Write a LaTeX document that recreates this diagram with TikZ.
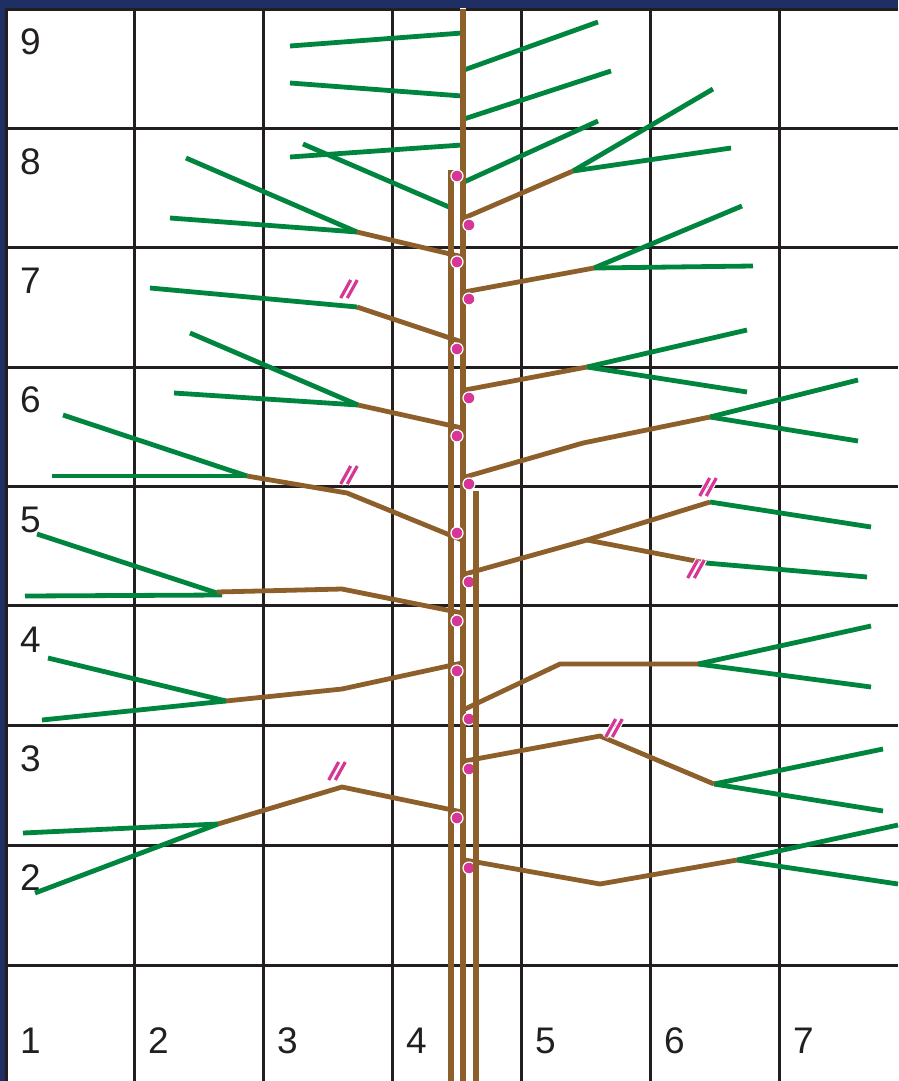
\documentclass[tikz,border=0pt]{standalone}
\usepackage{fontspec}
\setmainfont{Liberation Sans}
\definecolor{navy}{HTML}{1F2E63}
\definecolor{gridc}{HTML}{231F20}
\definecolor{brownc}{HTML}{8D5F2A}
\definecolor{greenc}{HTML}{00853F}
\definecolor{dotc}{HTML}{D63796}
\tikzset{
  gridline/.style={draw=gridc, line width=3pt},
  needle/.style={draw=greenc, line width=4.8pt},
  limb/.style={draw=brownc, line width=4.8pt, line join=round},
  trunkhalo/.style={draw=white, line width=6.8pt},
  trunk/.style={draw=brownc, line width=5.8pt},
  bud/.style={fill=dotc, draw=white, line width=1.2pt},
  lbl/.style={anchor=base west, inner sep=0pt, text=gridc, font=\fontsize{37}{40}\selectfont},
  hashmk/.pic={
    \foreach \d in {-3.3,3.3}{\draw[white, line width=5.5pt] (\d-5.2,9.2) -- (\d+5.2,-9.2);}
    \foreach \d in {-3.3,3.3}{\draw[dotc, line width=3.2pt] (\d-5,9) -- (\d+5,-9);}
  }
}
\begin{document}
\begin{tikzpicture}[x=1pt,y=-1pt]
\useasboundingbox (0,0) rectangle (898,1081);
% background
\fill[navy] (0,0) rectangle (898,1081);
\fill[white] (6,9.5) rectangle (898,1081);
% grid
\foreach \gx in {6,134,263,392,521,650,779}{\draw[gridline] (\gx,8.5) -- (\gx,1081);}
\foreach \gy in {10,128,247,367,486,605,725,845,965}{\draw[gridline] (4.5,\gy) -- (898,\gy);}
% labels
\foreach \t/\by in {9/55,8/174,7/293,6/412,5/532,4/652,3/771,2/890}{\node[lbl] (row\t) at (20,\by) {\t};}
\foreach \t/\bx in {1/20,2/148,3/277,4/406,5/535,6/664,7/793}{\node[lbl] (col\t) at (\bx,1053) {\t};}

% green needles on the leader
\draw[needle] (290,46) -- (462,33);
\draw[needle] (290,83) -- (462,96);
\draw[needle] (290,157) -- (462,145);
\draw[needle] (464,70) -- (598,22);
\draw[needle] (464,119) -- (611,71);
\draw[needle] (464,182) -- (598,121);
\draw[needle] (303,144) -- (449,207);

% row 8 left
\draw[needle] (357,232) -- (186,158);
\draw[needle] (357,232) -- (170,218);
\draw[limb] (463,257) -- (357,232);
% row 8 right
\draw[needle] (573,171) -- (713,89);
\draw[needle] (573,171) -- (731,148);
\draw[limb] (464,218) -- (573,171);
% row 7 right
\draw[needle] (594,268) -- (742,206);
\draw[needle] (594,268) -- (753,266);
\draw[limb] (464,292) -- (594,268);
% row 7 left
\draw[needle] (357,307) -- (150,288);
\draw[limb] (462,342) -- (357,307);
% row 6 left
\draw[needle] (358,405) -- (190,333);
\draw[needle] (358,405) -- (174,393);
\draw[limb] (462,428) -- (358,405);
% row 6 right
\draw[needle] (587,367) -- (747,330);
\draw[needle] (587,367) -- (747,392);
\draw[limb] (465,390) -- (587,367);
% row 5 upper right
\draw[needle] (710,417) -- (858,380);
\draw[needle] (710,417) -- (858,441);
\draw[limb] (465,477) -- (583,443) -- (710,417);
% row 5/6 left
\draw[needle] (247,476) -- (63,415);
\draw[needle] (247,476) -- (52,476);
\draw[limb] (462,540) -- (347,493) -- (247,476);
% row 5 lower right
\draw[needle] (710,502) -- (871,527);
\draw[needle] (706,563) -- (867,577);
\draw[limb] (465,574) -- (587,540) -- (710,502);
\draw[limb] (587,540) -- (706,563);
% row 4 upper left
\draw[needle] (220,594) -- (37,534);
\draw[needle] (222,595) -- (25,596);
\draw[limb] (462,613) -- (342,589) -- (217,592);
% row 4 lower left
\draw[needle] (226,701) -- (48,658);
\draw[needle] (226,701) -- (42,720);
\draw[limb] (462,663) -- (342,689) -- (226,701);
% row 4 right
\draw[needle] (698,664) -- (871,626);
\draw[needle] (698,664) -- (871,687);
\draw[limb] (465,709) -- (560,664) -- (698,664);
% row 3 right
\draw[needle] (714,784) -- (883,749);
\draw[needle] (714,784) -- (883,811);
\draw[limb] (465,761) -- (600,736) -- (714,784);
% row 3 left
\draw[needle] (218,824) -- (23,833);
\draw[needle] (218,824) -- (35,893);
\draw[limb] (462,812) -- (342,787) -- (218,824);
% row 2 right
\draw[needle] (737,860) -- (898,825);
\draw[needle] (737,860) -- (898,884);
\draw[limb] (465,860) -- (600,884) -- (737,860);

% leader and left stem
\draw[trunkhalo] (451,169.5) -- (451,1081);
\draw[trunk] (451,170) -- (451,1081);
\draw[trunkhalo] (463,8.5) -- (463,1081);
\draw[trunk] (463,9) -- (463,1081);

% buds
\foreach \by in {176,262,349,436,533,621,671,818}{\filldraw[bud] (457,\by) circle[radius=6pt];}
\foreach \by in {225,299,398,484,582,719,769,868}{\filldraw[bud] (469,\by) circle[radius=6pt];}

% right stem
\draw[trunkhalo] (476,490.5) -- (476,1081);
\draw[trunk] (476,491) -- (476,1081);

% cut marks
\pic at (349,289) {hashmk};
\pic at (349,475) {hashmk};
\pic at (337,771) {hashmk};
\pic at (708,487) {hashmk};
\pic at (696,569) {hashmk};
\pic at (614,728) {hashmk};
\end{tikzpicture}
\end{document}
